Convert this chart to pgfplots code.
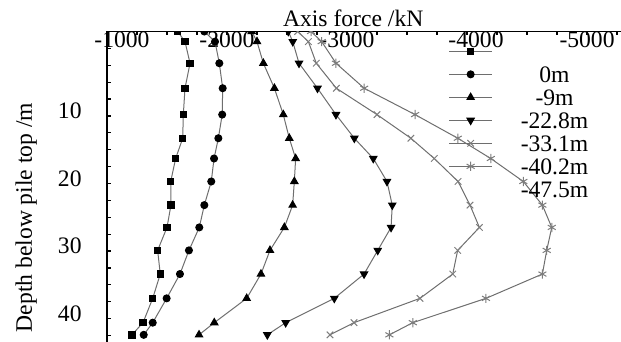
\documentclass[border=0pt]{standalone}
\usepackage{fontspec}
\setmainfont{Liberation Serif}
\usepackage{pgfplots}
\pgfplotsset{compat=1.18}
\usetikzlibrary{calc}

\definecolor{linegray}{RGB}{110,110,110}
\definecolor{markgray}{RGB}{125,125,125}

\newcommand{\chartfont}{\fontsize{11.8}{14}\selectfont}

\begin{document}
\begin{tikzpicture}
\begin{axis}[
    name=ax,
    scale only axis,
    width=257pt, height=155.25pt,
    x dir=reverse, y dir=reverse,
    xmin=-5283, xmax=-1000,
    ymin=0, ymax=45.96,
    axis x line*=top,
    axis y line*=left,
    axis line style={black, line width=0.75pt},
    tick align=inside,
    major tick length=2pt,
    tick style={black, line width=0.6pt},
    xtick={-5250,-5000,...,-1000},
    xticklabels={,-5000,,,,\hspace*{9pt}-4000,,,,-3000,,,,-2000,,,,\hspace*{15pt}-1000},
    ytick={0,2.5,...,45},
    yticklabels={,,,,10,,,,20,,,,30,,,,40,,},
    /pgf/number format/assume math mode=true,
    xticklabel style={anchor=north, inner sep=0pt, font=\chartfont},
    yticklabel style={anchor=east, inner sep=0pt, xshift=-12.5pt, yshift=-6pt, font=\chartfont},
    ylabel={Depth below pile top /m},
    ylabel style={at={(axis description cs:-0.1459,0.401)}, anchor=base, font=\chartfont},
    clip marker paths=true,
    legend cell align=center,
    legend style={draw=none, fill=none, at={(axis description cs:0.652,0.976)}, anchor=north west,
        font=\chartfont, row sep=3.5pt, column sep=14pt,
        nodes={inner sep=0pt, text height=8pt, text depth=0pt}},
    legend image code/.code={\draw[mark repeat=2,mark phase=2] plot coordinates {(0cm,0cm) (0.38cm,0cm) (0.76cm,0cm)};},
    every axis plot/.append style={linegray, line width=0.5pt},
]
% depth below pile top (m) against axial force (kN)
\addplot[mark=square*, mark size=1.6pt, mark options={black, fill=black}] coordinates {
(-1589,0) (-1650,1.5) (-1692,4.7) (-1650,8.4) (-1636,12.3) (-1631,15.8) (-1572,18.8) (-1531,22.2)
(-1533,25.7) (-1500,29.0) (-1422,32.4) (-1444,35.9) (-1381,39.5) (-1300,43.1) (-1208,44.9)};
\addlegendentry{}
\addplot[mark=*, mark size=1.75pt, mark options={black, fill=black}] coordinates {
(-1811,0) (-1900,1.5) (-1936,4.7) (-1964,8.4) (-1960,12.3) (-1928,15.8) (-1892,18.8) (-1869,22.2)
(-1811,25.7) (-1769,29.0) (-1683,32.4) (-1608,35.9) (-1497,39.5) (-1381,43.1) (-1306,44.9)};
\addlegendentry{0m}
\addplot[mark=triangle*, mark size=2.1pt, mark options={black, fill=black}] coordinates {
(-2206,0) (-2250,1.5) (-2303,4.7) (-2395,8.4) (-2469,12.3) (-2519,15.8) (-2572,18.8) (-2561,22.2)
(-2547,25.7) (-2478,29.0) (-2358,32.4) (-2283,35.9) (-2164,39.5) (-1894,43.1) (-1767,44.9)};
\addlegendentry{-9m}
\addplot[mark=triangle*, mark size=2.1pt, mark options={black, fill=black, rotate=180}] coordinates {
(-2511,0) (-2548,1.5) (-2600,4.7) (-2754,8.4) (-2908,12.3) (-3061,15.8) (-3219,18.8) (-3333,22.2)
(-3377,25.7) (-3367,29.0) (-3256,32.4) (-3142,35.9) (-2894,39.5) (-2489,43.1) (-2336,44.9)};
\addlegendentry{-22.8m}
\addplot[mark=x, mark size=2.3pt, mark options={markgray}] coordinates {
(-2589,0) (-2678,1.5) (-2744,4.7) (-2911,8.4) (-3250,12.3) (-3532,15.8) (-3727,18.8) (-3925,22.2)
(-4025,25.7) (-4103,29.0) (-3922,32.4) (-3881,35.9) (-3608,39.5) (-3058,43.1) (-2858,44.9)};
\addlegendentry{-33.1m}
\addplot[mark=asterisk, mark size=2.3pt, mark options={markgray}] coordinates {
(-2700,0) (-2789,1.5) (-2908,4.7) (-3143,8.4) (-3567,12.3) (-3923,15.8) (-4198,18.8) (-4469,22.2)
(-4628,25.7) (-4706,29.0) (-4664,32.4) (-4628,35.9) (-4158,39.5) (-3548,43.1) (-3353,44.9)};
\addlegendentry{-40.2m}
\addlegendimage{empty legend}
\addlegendentry{-47.5m}
\end{axis}
\node[anchor=base, font=\chartfont, inner sep=0pt] at ($(ax.north west)!0.479!(ax.north east)+(0,2.3pt)$) {Axis force /kN};
\pgfresetboundingbox
\path[use as bounding box] ([xshift=-53.5pt]ax.south west) rectangle ([yshift=15.75pt]ax.north east);
\end{tikzpicture}
\end{document}
